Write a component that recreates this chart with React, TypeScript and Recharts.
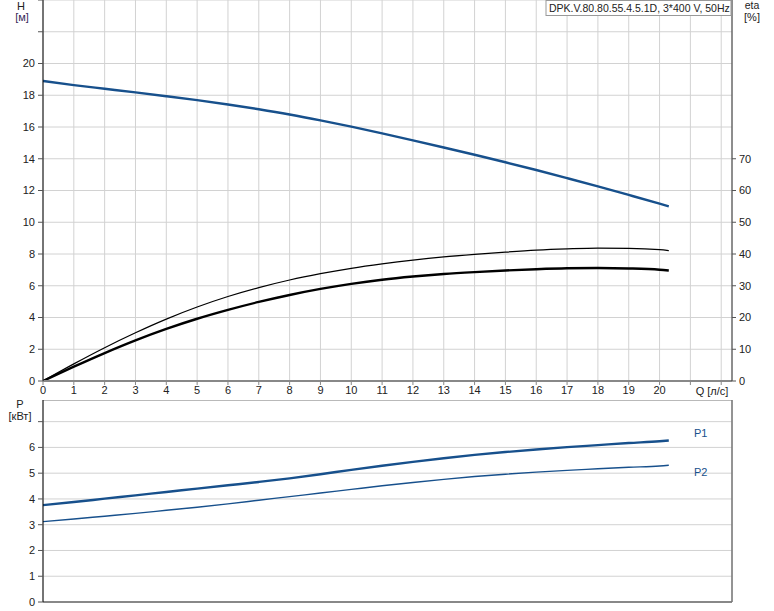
import React from 'react';
import { LineChart, Line, XAxis, YAxis, CartesianGrid, ReferenceLine } from 'recharts';

// flow points [l/s]
const q = [0, 1, 2, 3, 4, 5, 6, 7, 8, 9, 10, 11, 12, 13, 14, 15, 16, 17, 18, 19, 20, 20.3];
const head = [18.9, 18.64, 18.41, 18.18, 17.94, 17.69, 17.42, 17.12, 16.79, 16.42, 16.02, 15.6, 15.16, 14.71, 14.25, 13.78, 13.29, 12.78, 12.26, 11.72, 11.17, 11.0];
const etaPump = [0, 5.4, 10.5, 15.2, 19.5, 23.3, 26.6, 29.4, 31.8, 33.8, 35.5, 36.9, 38.1, 39.1, 39.9, 40.6, 41.2, 41.6, 41.85, 41.8, 41.35, 41.05];
const etaTotal = [0, 4.5, 8.8, 12.8, 16.4, 19.6, 22.4, 24.9, 27.1, 29.0, 30.6, 31.9, 32.9, 33.7, 34.3, 34.8, 35.2, 35.5, 35.6, 35.45, 35.05, 34.8];
const p1 = [3.76, 3.88, 4.01, 4.14, 4.27, 4.4, 4.53, 4.66, 4.8, 4.96, 5.13, 5.29, 5.44, 5.58, 5.71, 5.82, 5.92, 6.01, 6.09, 6.17, 6.24, 6.27];
const p2 = [3.12, 3.22, 3.33, 3.44, 3.56, 3.68, 3.81, 3.95, 4.09, 4.23, 4.37, 4.51, 4.64, 4.76, 4.87, 4.96, 5.04, 5.11, 5.17, 5.23, 5.28, 5.31];

const qTicks = [0, 1, 2, 3, 4, 5, 6, 7, 8, 9, 10, 11, 12, 13, 14, 15, 16, 17, 18, 19, 20, 21, 22];
const hTicks = [0, 2, 4, 6, 8, 10, 12, 14, 16, 18, 20, 22, 24];
const etaTicks = [0, 10, 20, 30, 40, 50, 60, 70];
const pTicks = [0, 1, 2, 3, 4, 5, 6, 7];

const qMax = 22.35;
const hMax = 24;
const etaMax = 120;
const pMax = 7.84;

const title = 'DPK.V.80.80.55.4.5.1D, 3*400 V, 50Hz';

const rows = q.map((v, i) => ({
  q: v,
  head: head[i],
  etaPump: etaPump[i],
  etaTotal: etaTotal[i],
  p1: p1[i],
  p2: p2[i],
}));

const font = '"Liberation Sans", Arial, sans-serif';
const tickStyle = { fontSize: 11, fill: '#222', fontFamily: font };
const blue = '#17508c';

export default function App() {
  return (
    <div style={{ position: 'absolute', left: 0, top: 0, width: 774, height: 611, background: '#fff', fontFamily: font }}>
      <div style={{ position: 'absolute', left: 0, top: 0 }}>
        <LineChart width={774} height={400} data={rows} margin={{ top: 0, right: 0, bottom: 0, left: 0 }}>
          <CartesianGrid yAxisId="h" stroke="#d2d2d2" />
          <XAxis
            dataKey="q"
            type="number"
            domain={[0, qMax]}
            ticks={qTicks}
            allowDataOverflow
            height={19}
            tickSize={4}
            tickMargin={1}
            tick={tickStyle}
            tickFormatter={(v) => (v <= 20 ? String(v) : '')}
            axisLine={{ stroke: '#888', strokeWidth: 2 }}
            tickLine={{ stroke: '#888' }}
            interval={0}
          />
          <YAxis
            yAxisId="h"
            width={43}
            domain={[0, hMax]}
            ticks={hTicks}
            tickSize={5}
            tickMargin={3}
            tick={tickStyle}
            tickFormatter={(v) => (v <= 20 ? String(v) : '')}
            axisLine={{ stroke: '#000' }}
            tickLine={{ stroke: '#555' }}
            interval={0}
          />
          <YAxis
            yAxisId="eta"
            orientation="right"
            width={42}
            domain={[0, etaMax]}
            ticks={etaTicks}
            tickSize={4}
            tickMargin={3}
            tick={tickStyle}
            axisLine={{ stroke: '#333' }}
            tickLine={{ stroke: '#555' }}
            interval={0}
          />
          <Line yAxisId="h" type="monotone" dataKey="head" stroke={blue} strokeWidth={2.4} dot={false} isAnimationActive={false} />
          <Line yAxisId="eta" type="monotone" dataKey="etaPump" stroke="#000" strokeWidth={1.2} dot={false} isAnimationActive={false} />
          <Line yAxisId="eta" type="monotone" dataKey="etaTotal" stroke="#000" strokeWidth={2.4} dot={false} isAnimationActive={false} />
        </LineChart>
      </div>
      <div style={{ position: 'absolute', left: 0, top: 400 }}>
        <LineChart width={774} height={211} data={rows} margin={{ top: 0, right: 42, bottom: 0, left: 0 }}>
          <CartesianGrid stroke="#d2d2d2" />
          <XAxis
            dataKey="q"
            type="number"
            domain={[0, qMax]}
            ticks={qTicks}
            allowDataOverflow
            height={9}
            tick={false}
            axisLine={false}
            tickLine={false}
            interval={0}
          />
          <YAxis
            width={43}
            domain={[0, pMax]}
            ticks={pTicks}
            allowDataOverflow
            tickSize={5}
            tickMargin={3}
            tick={tickStyle}
            tickFormatter={(v) => (v <= 6 ? String(v) : '')}
            axisLine={{ stroke: '#000' }}
            tickLine={{ stroke: '#555' }}
            interval={0}
          />
          <ReferenceLine y={pMax} stroke="#aaa" strokeWidth={1.5} />
          <ReferenceLine y={0} stroke="#888" strokeWidth={2} />
          <ReferenceLine x={qMax} stroke="#777" strokeWidth={1.5} />
          <Line type="monotone" dataKey="p1" stroke={blue} strokeWidth={2.4} dot={false} isAnimationActive={false} />
          <Line type="monotone" dataKey="p2" stroke={blue} strokeWidth={1.4} dot={false} isAnimationActive={false} />
        </LineChart>
      </div>
      <svg width={774} height={611} style={{ position: 'absolute', left: 0, top: 0, pointerEvents: 'none' }} fontFamily={font} fontSize={11}>
        <text x={21} y={10} textAnchor="middle" fill="#222">H</text>
        <text x={22} y={21} textAnchor="middle" fill="#3a2a5a">[м]</text>
        <text x={752} y={9} textAnchor="middle" fill="#222" fontSize={10.5}>eta</text>
        <text x={752} y={21} textAnchor="middle" fill="#222">[%]</text>
        <rect x={546} y={0.5} width={185} height={15} fill="#fff" stroke="#999" />
        <text x={549} y={11.5} fill="#222" fontSize={10.5}>{title}</text>
        <text x={712} y={395} textAnchor="middle" fill="#222">Q [л/с]</text>
        <text x={20} y={408} textAnchor="middle" fill="#222">P</text>
        <text x={20} y={420} textAnchor="middle" fill="#222">[кВт]</text>
        <text x={694} y={437} fill={blue}>P1</text>
        <text x={694} y={476} fill={blue}>P2</text>
      </svg>
    </div>
  );
}
